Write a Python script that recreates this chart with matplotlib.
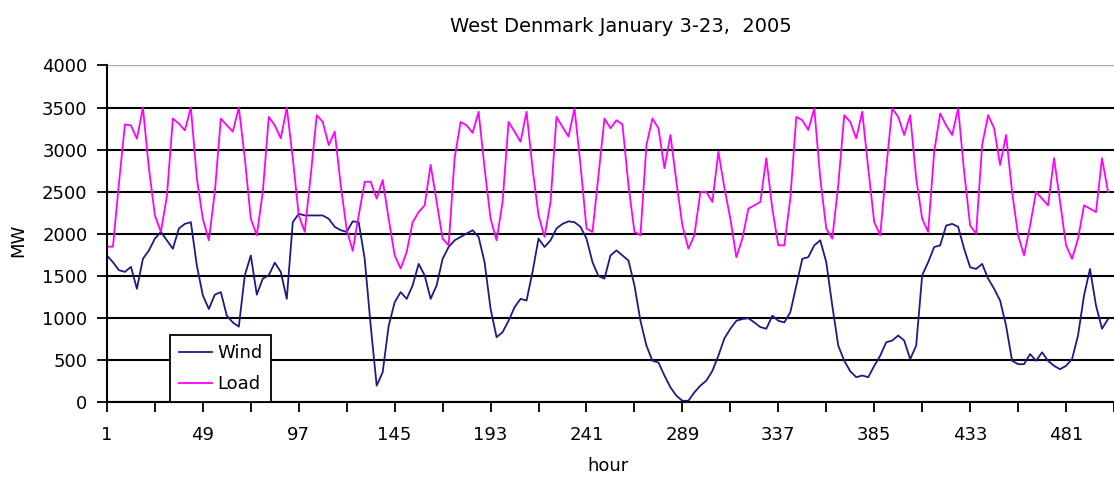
import matplotlib.pyplot as plt
import numpy as np

# hourly series every third hour (hour 1, 4, 7, ... 502)
hours = np.arange(1, 503, 3)

load_mw = [
    1850, 1850, 2600, 3300, 3290, 3130, 3500, 2780,
    2220, 2025, 2450, 3370, 3310, 3230, 3500, 2660,
    2180, 1925, 2500, 3370, 3290, 3215, 3500, 2900,
    2180, 1985, 2500, 3390, 3290, 3135, 3500, 2900,
    2220, 2025, 2700, 3410, 3330, 3055, 3215, 2580,
    2050, 1800, 2220, 2620, 2620, 2420, 2640, 2180,
    1745, 1590, 1785, 2140, 2260, 2340, 2820, 2380,
    1945, 1865, 2900, 3330, 3290, 3200, 3450, 2780,
    2180, 1925, 2380, 3330, 3215, 3095, 3450, 2780,
    2220, 1965, 2380, 3390, 3270, 3155, 3490, 2820,
    2065, 2025, 2700, 3370, 3255, 3350, 3300, 2580,
    2025, 1985, 3055, 3370, 3255, 2780, 3175, 2620,
    2100, 1825, 1985, 2500, 2500, 2380, 2975, 2550,
    2180, 1725, 1945, 2300, 2340, 2380, 2900, 2300,
    1865, 1865, 2420, 3390, 3350, 3235, 3490, 2660,
    2065, 1945, 2580, 3410, 3330, 3135, 3450, 2780,
    2140, 1985, 2780, 3490, 3390, 3175, 3410, 2660,
    2180, 2025, 2975, 3430, 3290, 3175, 3490, 2740,
    2100, 2005, 3055, 3410, 3255, 2820, 3175, 2500,
    1985, 1745, 2100, 2500, 2420, 2340, 2900, 2380,
    1865, 1705, 1945, 2340, 2300, 2260, 2900, 2500,
]

wind_mw = [
    1745, 1665, 1570, 1550, 1610, 1350, 1705, 1805,
    1945, 2025, 1925, 1825, 2065, 2120, 2140, 1625,
    1270, 1110, 1280, 1310, 1030, 950, 900, 1510,
    1745, 1280, 1470, 1510, 1660, 1550, 1230, 2140,
    2240, 2220, 2220, 2220, 2220, 2180, 2085, 2045,
    2025, 2150, 2140, 1705, 910, 200, 360, 910,
    1190, 1310, 1230, 1390, 1645, 1510, 1230, 1390,
    1705, 1845, 1925, 1965, 2005, 2045, 1965, 1665,
    1110, 775, 835, 970, 1130, 1230, 1210, 1550,
    1945, 1845, 1925, 2065, 2120, 2150, 2140, 2085,
    1945, 1665, 1500, 1470, 1745, 1805, 1745, 1685,
    1390, 970, 675, 495, 475, 320, 180, 80,
    20, 20, 120, 200, 260, 375, 555, 760,
    875, 970, 990, 1000, 950, 895, 875, 1030,
    970, 950, 1070, 1390, 1705, 1725, 1865, 1925,
    1665, 1150, 675, 495, 370, 300, 320, 300,
    435, 555, 715, 735, 795, 735, 515, 675,
    1510, 1665, 1845, 1865, 2100, 2120, 2085, 1825,
    1605, 1585, 1645, 1470, 1350, 1210, 910, 495,
    455, 455, 575, 495, 595, 495, 435, 395,
    435, 515, 795, 1270, 1585, 1150, 875, 990,
]

tick_hours = [1, 49, 97, 145, 193, 241, 289, 337, 385, 433, 481]
minor_hours = [25, 73, 121, 169, 217, 265, 313, 361, 409, 457, 505]

plt.rcParams['font.family'] = ['DejaVu Sans']

fig = plt.figure(figsize=(11.14, 4.78), dpi=100)
ax = fig.add_axes([0.096, 0.158, 0.904, 0.705])

ax.plot(hours, wind_mw, color='#1c1c84', lw=1.3, label='Wind')
ax.plot(hours, load_mw, color='#ff00ff', lw=1.3, label='Load')

ax.set_xlim(1, 502)
ax.set_ylim(0, 4000)
ax.set_yticks(range(0, 4001, 500))
ax.set_xticks(tick_hours)
ax.set_xticks(minor_hours, minor=True)
ax.tick_params(axis='both', which='both', direction='out', length=7, width=1.3,
               labelsize=13)
ax.tick_params(axis='x', which='both', pad=10)
ax.tick_params(axis='y', pad=7)

ax.grid(axis='y', color='black', lw=1.5)
ax.get_ygridlines()[-1].set_color('#aaaaaa')
ax.get_ygridlines()[-1].set_linewidth(1.0)

for side in ['top', 'right']:
    ax.spines[side].set_visible(False)
ax.spines['left'].set_linewidth(1.5)
ax.spines['bottom'].set_linewidth(1.5)

leg = ax.legend(loc='lower left', bbox_to_anchor=(0.0626, 0.0), borderaxespad=0,
                fontsize=13, handlelength=1.8, handletextpad=0.3,
                labelspacing=0.75, borderpad=0.5, fancybox=False, framealpha=1)
leg.get_frame().set_edgecolor('black')
leg.get_frame().set_linewidth(1.3)

fig.text(0.557, 1 - 27 / 478, 'West Denmark January 3-23,  2005',
         ha='center', va='center', fontsize=14)
fig.text(18 / 1114, 1 - 240 / 478, 'MW', rotation=90, ha='center', va='center',
         fontsize=13)
fig.text(608 / 1114, 1 - 466 / 478, 'hour', ha='center', va='center', fontsize=13)

fig.savefig('out.png', dpi=100)
